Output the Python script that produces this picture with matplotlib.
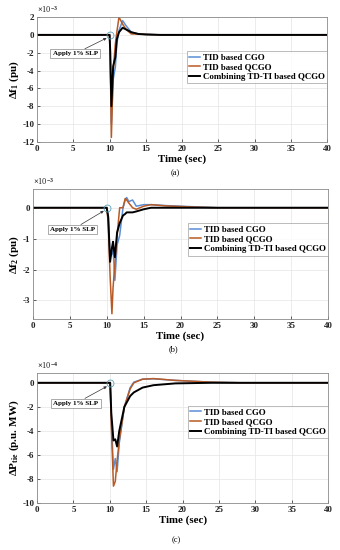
import matplotlib
matplotlib.use("Agg")
import matplotlib.pyplot as plt

plt.rcParams['font.family'] = ['Liberation Serif', 'DejaVu Serif']
plt.rcParams['font.weight'] = 'bold'
plt.rcParams['mathtext.fontset'] = 'custom'
plt.rcParams['mathtext.rm'] = 'Liberation Serif:bold'
plt.rcParams['mathtext.bf'] = 'Liberation Serif:bold'
plt.rcParams['mathtext.it'] = 'Liberation Serif:bold'
plt.rcParams['mathtext.default'] = 'bf'

series_names = ["TID based CGO", "TID based QCGO", "Combining TD-TI based QCGO"]
colors = ["#5b8fd6", "#b85a25", "#000000"]

# Panel (a): delta f1, units of 1e-3 pu
t_a = [0, 10.0, 10.1, 10.25, 10.5, 10.8, 11.0, 11.3, 11.8, 12.3, 13.0, 14.0, 15.0, 17.0, 40.0]
a_cgo = [0, 0, -3.0, -10.0, -5.0, -3.6, -1.0, 0.5, 1.6, 1.0, 0.3, 0.1, 0.05, 0, 0]
a_qcgo = [0, 0, -3.0, -11.5, -4.0, -1.0, 0.3, 2.0, 1.2, 0.6, 0.1, 0.1, 0.05, 0, 0]
a_comb = [0, 0, -2.0, -8.0, -3.5, -2.5, -0.5, 0.3, 0.8, 0.6, 0.3, 0.1, 0.05, 0, 0]

# Panel (b): delta f2, units of 1e-3 pu
t_b = [0, 10.0, 10.2, 10.45, 10.7, 10.85, 11.1, 11.4, 11.75, 12.2, 12.5, 12.7, 13.0, 13.5, 14.0, 15.0, 16.0, 18.0, 22.0, 25.0, 40.0]
b_cgo = [0, 0, -0.3, -1.6, -1.5, -1.3, -2.35, -1.2, -0.9, 0.0, 0.25, 0.33, 0.2, 0.25, 0.05, 0.1, 0.1, 0.07, 0.03, 0, 0]
b_qcgo = [0, 0, -0.5, -2.2, -3.43, -2.6, -1.8, -0.9, 0.0, 0.0, 0.3, 0.25, 0.15, 0.0, -0.05, 0.05, 0.1, 0.06, 0.02, 0, 0]
b_comb = [0, 0, -0.3, -1.75, -1.3, -1.1, -1.6, -0.8, -0.5, -0.25, -0.2, -0.15, -0.15, -0.15, -0.12, -0.05, 0, 0, 0, 0, 0]

# Panel (c): delta P tie, units of 1e-4 p.u. MW
t_c = [0, 10.05, 10.2, 10.5, 10.75, 11.0, 11.3, 12.0, 12.8, 13.3, 14.5, 16.0, 19.0, 24.0, 28.0, 40.0]
c_cgo = [0, 0, -3.0, -7.2, -6.3, -7.4, -5.0, -2.0, -0.4, 0.05, 0.3, 0.33, 0.2, 0.05, 0, 0]
c_qcgo = [0, 0, -3.5, -8.6, -8.2, -6.5, -4.8, -2.0, -0.5, 0.0, 0.3, 0.35, 0.2, 0.05, 0, 0]
c_comb = [0, 0, -2.5, -4.8, -4.7, -5.3, -4.0, -2.0, -1.1, -0.8, -0.4, -0.2, -0.05, 0, 0, 0]

panels = [
    dict(t=t_a, ys=[a_cgo, a_qcgo, a_comb], exp='-3', ylim=(-12, 2), yticks=[-12, -10, -8, -6, -4, -2, 0, 2],
         ylabel='Δf$_1$ (pu)', pos=[0.109, 0.742, 0.853, 0.227], cap='(a)', capy=0.682,
         box=(5.25, -2.1), arrow=(9.6, -0.35), leg=(1.0, 0.73)),
    dict(t=t_b, ys=[b_cgo, b_qcgo, b_comb], exp='-3', ylim=(-3.6, 0.6), yticks=[-3, -2, -1, 0],
         ylabel='Δf$_2$ (pu)', pos=[0.097, 0.42, 0.868, 0.236], cap='(b)', capy=0.362,
         box=(5.4, -0.7), arrow=(9.6, -0.1), leg=(1.0, 0.74)),
    dict(t=t_c, ys=[c_cgo, c_qcgo, c_comb], exp='-4', ylim=(-10, 0.8), yticks=[-10, -8, -6, -4, -2, 0],
         ylabel='ΔP$_{tie}$ (p.u. MW)', pos=[0.109, 0.0855, 0.856, 0.236], cap='(c)', capy=0.015,
         box=(5.36, -1.7), arrow=(9.6, -0.3), leg=(1.0, 0.75)),
]

fig = plt.figure(figsize=(3.4, 5.5), dpi=100)

for p in panels:
    ax = fig.add_axes(p['pos'])
    for y, c, n in zip(p['ys'], colors, series_names):
        ax.plot(p['t'], y, color=c, lw=1.4 if c == "#000000" else 1.1, label=n)
    ax.set_xlim(0, 40)
    ax.set_ylim(*p['ylim'])
    ax.set_xticks(range(0, 41, 5))
    ax.set_yticks(p['yticks'])
    ax.set_yticklabels([str(v) for v in p['yticks']])
    ax.text(0.0, 1.015, r'$\times$10$^{' + p['exp'] + '}$', transform=ax.transAxes, fontsize=6,
            fontweight='normal', ha='left', va='bottom', color='#222222')
    ax.grid(True, color='#e4e4e4', lw=0.5)
    ax.tick_params(direction='in', length=2, width=0.5, labelsize=6.5, pad=2, colors='#222222')
    for sp in ax.spines.values():
        sp.set_color('#8a8a8a')
        sp.set_linewidth(0.6)
    ax.set_xlabel('Time (sec)', fontsize=7.8, fontweight='bold', labelpad=1)
    ax.set_ylabel(p['ylabel'], fontsize=8, fontweight='bold', labelpad=1)
    leg = ax.legend(loc='upper right', bbox_to_anchor=p['leg'], fontsize=6.4, frameon=True,
                    fancybox=False, handlelength=1.2, handletextpad=0.3, borderpad=0.3,
                    labelspacing=0.15, borderaxespad=0.0)
    leg.get_frame().set_edgecolor('#888888')
    leg.get_frame().set_linewidth(0.5)
    for txt in leg.get_texts():
        txt.set_fontweight('bold')
    ax.plot([10], [0], marker='o', ms=5, mfc='none', mec='#5aa0b8', mew=0.6, zorder=5)
    ax.annotate('Apply 1% SLP', xy=p['arrow'],
                xytext=p['box'], ha='center', va='center', fontsize=5,
                fontweight='bold',
                bbox=dict(boxstyle='square,pad=0.3', fc='white', ec='#888888', lw=0.5),
                arrowprops=dict(arrowstyle='-|>', color='#333333', lw=0.5, mutation_scale=4,
                                shrinkA=0, shrinkB=0))
    fig.text(p['pos'][0] + p['pos'][2] / 2 - 0.02, p['capy'], p['cap'], fontsize=6, ha='center',
             fontweight='normal')

fig.savefig('out.png', dpi=100)
